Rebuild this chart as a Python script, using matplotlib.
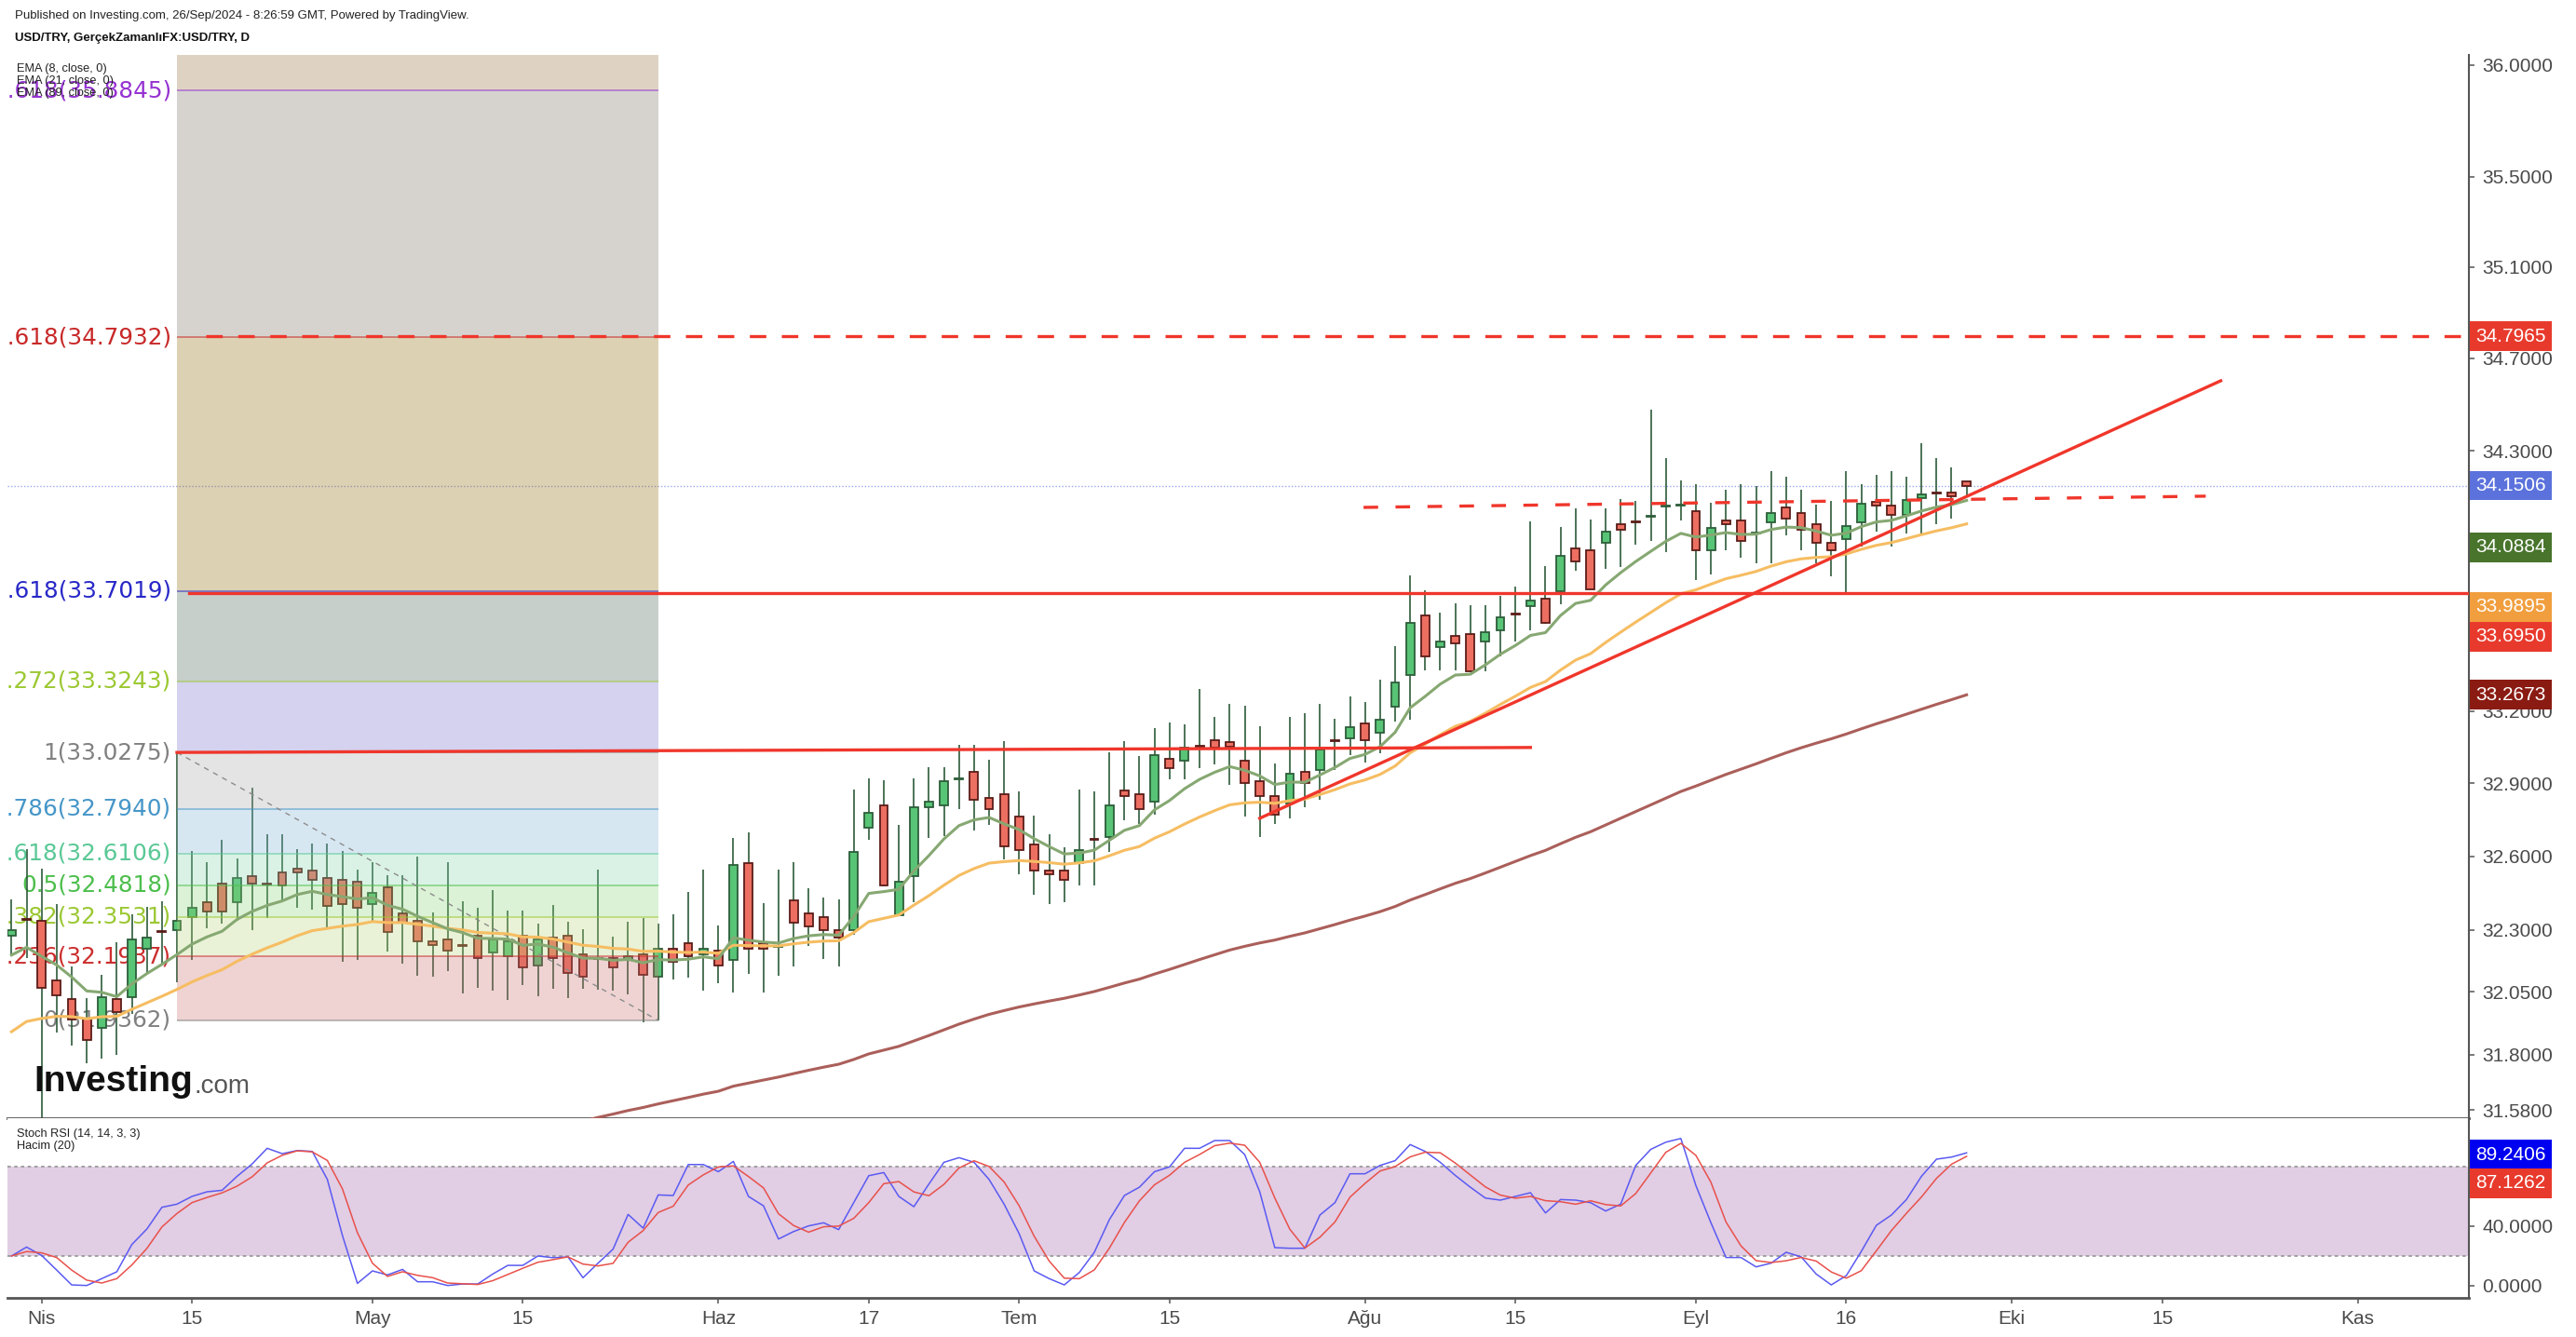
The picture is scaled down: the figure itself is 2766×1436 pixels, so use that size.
import matplotlib.pyplot as plt
import matplotlib.transforms as mtransforms
from matplotlib.ticker import FixedLocator, NullLocator, FuncFormatter
import numpy as np
import pandas as pd

plt.rcParams['font.family'] = ['Liberation Sans', 'DejaVu Sans']

# USD/TRY daily candles, 28 Mar 2024 -> 26 Sep 2024 (business days)
first_day = '2024-03-28'
opens = [32.277, 32.342, 32.338, 32.097, 32.022, 31.944, 31.906, 32.022, 32.030, 32.225,
         32.294, 32.300, 32.353, 32.413, 32.489, 32.413, 32.519, 32.487, 32.535, 32.550,
         32.542, 32.512, 32.504, 32.497, 32.406, 32.474, 32.368, 32.338, 32.255, 32.262,
         32.238, 32.277, 32.210, 32.195, 32.277, 32.157, 32.270, 32.277, 32.202, 32.185,
         32.187, 32.180, 32.202, 32.112, 32.225, 32.247, 32.202, 32.217, 32.180, 32.573,
         32.247, 32.231, 32.421, 32.368, 32.353, 32.300, 32.300, 32.717, 32.809, 32.360,
         32.519, 32.802, 32.809, 32.915, 32.948, 32.840, 32.855, 32.763, 32.649, 32.542,
         32.542, 32.573, 32.669, 32.679, 32.870, 32.855, 32.824, 33.002, 32.994, 33.053,
         33.078, 33.071, 32.994, 32.909, 32.848, 32.817, 32.948, 32.955, 33.076, 33.086,
         33.148, 33.110, 33.218, 33.350, 33.600, 33.467, 33.514, 33.522, 33.490, 33.537,
         33.605, 33.639, 33.671, 33.702, 33.884, 33.876, 33.907, 33.987, 33.995, 34.020,
         34.060, 34.064, 34.042, 33.876, 34.003, 34.003, 33.945, 33.995, 34.058, 34.034,
         33.987, 33.907, 33.923, 33.995, 34.082, 34.066, 34.026, 34.098, 34.120, 34.122,
         34.170]
highs = [32.425, 32.630, 32.550, 32.406, 32.153, 32.026, 32.120, 32.251, 32.364, 32.395,
         32.417, 33.0275, 32.622, 32.577, 32.668, 32.592, 32.882, 32.691, 32.691, 32.630,
         32.653, 32.653, 32.622, 32.546, 32.577, 32.523, 32.523, 32.599, 32.372, 32.577,
         32.417, 32.391, 32.463, 32.379, 32.379, 32.326, 32.402, 32.334, 32.304, 32.546,
         32.274, 32.334, 32.349, 32.326, 32.364, 32.455, 32.546, 32.319, 32.675, 32.698,
         32.410, 32.546, 32.577, 32.470, 32.432, 32.425, 32.874, 32.921, 32.913, 32.729,
         32.921, 32.967, 32.967, 33.059, 33.059, 32.998, 33.075, 32.867, 32.767, 32.691,
         32.637, 32.874, 32.867, 33.028, 33.075, 33.013, 33.129, 33.152, 33.144, 33.292,
         33.175, 33.229, 33.222, 33.137, 32.982, 33.175, 33.191, 33.229, 33.168, 33.260,
         33.237, 33.331, 33.471, 33.769, 33.706, 33.612, 33.651, 33.643, 33.643, 33.682,
         33.722, 33.999, 33.809, 33.975, 34.054, 34.006, 34.054, 34.094, 34.086, 34.478,
         34.269, 34.174, 34.158, 34.078, 34.134, 34.158, 34.150, 34.213, 34.190, 34.134,
         34.070, 34.086, 34.213, 34.158, 34.198, 34.213, 34.190, 34.334, 34.269, 34.229,
         34.170]
lows = [32.195, 32.187, 31.530, 31.888, 31.836, 31.765, 31.784, 31.799, 31.963, 32.123,
        32.157, 32.090, 32.180, 32.308, 32.326, 32.338, 32.300, 32.349, 32.421, 32.391,
        32.383, 32.308, 32.172, 32.180, 32.338, 32.214, 32.165, 32.116, 32.112, 32.135,
        32.045, 32.067, 32.056, 32.019, 32.078, 32.034, 32.063, 32.026, 32.063, 32.060,
        32.056, 32.041, 31.929, 31.9362, 32.101, 32.108, 32.056, 32.086, 32.049, 32.123,
        32.049, 32.116, 32.153, 32.236, 32.184, 32.153, 32.281, 32.668, 32.478, 32.358,
        32.413, 32.675, 32.683, 32.794, 32.706, 32.729, 32.588, 32.527, 32.444, 32.406,
        32.413, 32.482, 32.482, 32.618, 32.748, 32.733, 32.771, 32.917, 32.917, 32.963,
        32.978, 32.894, 32.763, 32.679, 32.733, 32.756, 32.802, 32.832, 32.955, 33.017,
        32.986, 33.025, 33.156, 33.164, 33.369, 33.369, 33.369, 33.362, 33.365, 33.428,
        33.490, 33.537, 33.566, 33.647, 33.789, 33.708, 33.797, 33.805, 33.900, 33.915,
        33.868, 34.003, 33.749, 33.773, 33.876, 33.844, 33.820, 33.820, 33.939, 33.876,
        33.820, 33.765, 33.686, 33.892, 33.955, 33.892, 33.947, 33.947, 33.987, 34.010,
        34.106]
closes = [32.300, 32.340, 32.067, 32.037, 31.940, 31.858, 32.030, 31.970, 32.262, 32.270,
          32.292, 32.338, 32.391, 32.375, 32.375, 32.512, 32.489, 32.485, 32.482, 32.535,
          32.504, 32.398, 32.406, 32.391, 32.451, 32.292, 32.330, 32.255, 32.240, 32.217,
          32.236, 32.187, 32.262, 32.255, 32.150, 32.262, 32.187, 32.127, 32.112, 32.183,
          32.150, 32.195, 32.120, 32.225, 32.172, 32.195, 32.225, 32.157, 32.565, 32.225,
          32.225, 32.233, 32.330, 32.315, 32.300, 32.270, 32.618, 32.779, 32.482, 32.497,
          32.802, 32.824, 32.909, 32.917, 32.832, 32.794, 32.641, 32.626, 32.542, 32.527,
          32.504, 32.626, 32.667, 32.809, 32.848, 32.794, 33.017, 32.963, 33.048, 33.051,
          33.048, 33.051, 32.901, 32.848, 32.771, 32.940, 32.901, 33.040, 33.074, 33.133,
          33.078, 33.164, 33.319, 33.569, 33.428, 33.490, 33.482, 33.365, 33.529, 33.592,
          33.603, 33.663, 33.569, 33.852, 33.828, 33.710, 33.955, 33.963, 33.993, 34.022,
          34.062, 34.066, 33.876, 33.971, 33.987, 33.915, 33.947, 34.034, 34.010, 33.963,
          33.907, 33.876, 33.979, 34.074, 34.066, 34.026, 34.090, 34.114, 34.118, 34.106,
          34.1506]

# Stoch RSI %K (14, 14, 3, 3)
stoch_k = [20.0, 26.0, 20.4, 10.6, 0.6, 0.2, 4.8, 9.4, 27.7, 38.1,
           52.7, 54.8, 60.0, 63.1, 64.1, 73.5, 81.8, 92.3, 88.7, 90.8,
           90.2, 71.4, 33.9, 1.6, 10.0, 7.3, 11.0, 2.7, 2.7, 0.2,
           1.2, 1.2, 7.9, 13.7, 13.7, 20.0, 18.9, 19.4, 5.4, 15.2,
           24.6, 47.9, 38.7, 61.0, 60.6, 81.4, 81.4, 76.6, 83.5, 60.0,
           53.7, 31.4, 36.4, 40.2, 42.3, 37.7, 55.8, 73.9, 76.0, 60.0,
           53.1, 68.3, 82.9, 86.0, 82.9, 71.4, 54.8, 35.0, 10.0, 4.8,
           0.6, 8.9, 22.5, 44.4, 60.6, 66.2, 76.6, 79.8, 92.3, 92.3,
           97.5, 97.5, 88.1, 63.1, 25.6, 25.2, 25.2, 47.5, 55.8, 75.2,
           75.2, 80.8, 84.0, 94.8, 90.2, 82.9, 74.1, 66.2, 58.9, 57.5,
           60.0, 62.5, 48.9, 57.9, 57.5, 55.8, 50.2, 54.8, 80.8, 91.6,
           96.4, 98.9, 67.3, 42.3, 19.0, 19.0, 12.7, 15.2, 22.5, 19.4,
           7.9, 0.6, 6.8, 23.1, 40.6, 47.5, 57.9, 73.5, 85.0, 86.4,
           89.24]

# EMA values on the day before the first bar
ema8_start, ema21_start, ema89_start = 32.17, 31.85, 30.5

# Fibonacci drawing (anchored on bar 11 high and bar 43 low)
fib_from, fib_to = 11, 43
fib_levels = [0, 0.236, 0.382, 0.5, 0.618, 0.786, 1, 1.272, 1.618, 2.618, 3.618]
fib_prices = [31.9362, 32.1937, 32.3531, 32.4818, 32.6106, 32.7940, 33.0275,
              33.3243, 33.7019, 34.7932, 35.8845]
fib_colors = ['#808080', '#cc2e2e', '#9bc832', '#4cbe4c', '#5ac896', '#4696c8',
              '#808080', '#9bc832', '#2828c8', '#c82828', '#9632d2']
band_colors = ['#cd7070', '#b9d47a', '#8ad47a', '#84d4ac', '#7db2d4', '#a8a8a8',
               '#736ccd', '#486252', '#8e6905', '#7a7062', '#94703a']

# hand-drawn lines: (x0, y0, x1, y1)
resistance_dash = (12.9, 34.7965, 163.4, 34.7965)
support_red = (11.8, 33.695, 163.4, 33.695)
old_top = (11, 33.0275, 101, 33.048)
rising_trend = (83, 32.756, 146.9, 34.603)
range_dash = (89.9, 34.058, 145.9, 34.106)
last_price = 34.1506

price_ticks = [36.0, 35.5, 35.1, 34.7, 34.3, 33.2, 32.9, 32.6, 32.3, 32.05, 31.8, 31.58]
stoch_ticks = [0, 40]
tick_dates = ['2024-04-01', '2024-04-15', '2024-05-01', '2024-05-15', '2024-06-03',
              '2024-06-17', '2024-07-01', '2024-07-15', '2024-08-01', '2024-08-15',
              '2024-09-02', '2024-09-16', '2024-10-01', '2024-10-15', '2024-11-01']
tick_labels = ['Nis', '15', 'May', '15', 'Haz', '17', 'Tem', '15', 'Ağu', '15',
               'Eyl', '16', 'Eki', '15', 'Kas']

# right-hand price tags: value, slot on the scale, colour
tag_values = [34.7965, 34.1506, 34.0884, 33.9895, 33.6950, 33.2673]
tag_slots = [34.7965, 34.1506, 33.888, 33.636, 33.510, 33.2673]
tag_colors = ['#e83a2c', '#5b72dc', '#48742c', '#f19e3e', '#e83a2c', '#8a1b12']
stoch_tag_values = [89.2406, 87.1262]
stoch_tag_slots = [88.1, 68.75]
stoch_tag_colors = ['#0000f0', '#e83a2c']

W, H = 2766, 1436
fig = plt.figure(figsize=(W / 100, H / 100), dpi=100)
left, right = 8, 2651
ax = fig.add_axes([left / W, (H - 1201) / H, (right - left) / W, (1201 - 59) / H])
ax2 = fig.add_axes([left / W, (H - 1394) / H, (right - left) / W, (1394 - 1201) / H], sharex=ax)

n = len(closes)
x = np.arange(n)
o, h, l, c = map(np.array, (opens, highs, lows, closes))
up = c >= o

# candles
ax.vlines(x, l, h, color='#2e5b3b', lw=1.2, zorder=2.1)
body_lo = np.minimum(o, c)
body_h = np.maximum(np.abs(c - o), 0.004)
ax.bar(x[up], body_h[up], bottom=body_lo[up], width=0.55, color='#58c476',
       edgecolor='#2d5e3a', linewidth=1.3, zorder=2.2)
ax.bar(x[~up], body_h[~up], bottom=body_lo[~up], width=0.55, color='#ec6f61',
       edgecolor='#5b1d18', linewidth=1.3, zorder=2.2)


def ema(values, span, start):
    s = pd.Series([start] + list(values))
    return s.ewm(span=span, adjust=False).mean().iloc[1:].to_numpy()


ax.plot(x, ema(closes, 89, ema89_start), color='#ab5f5a', lw=2.2, zorder=4)
ax.plot(x, ema(closes, 21, ema21_start), color='#f6bd62', lw=2.2, zorder=4)
ax.plot(x, ema(closes, 8, ema8_start), color='#86a872', lw=2.2, zorder=4)

ymin, ymax = 31.547, 36.046

# fibonacci box
tops = fib_prices[1:] + [ymax]
for lo, hi, col in zip(fib_prices, tops, band_colors):
    ax.fill_between([fib_from, fib_to], lo, hi, color=col, alpha=0.3, lw=0, zorder=3)
ax.hlines(fib_prices, fib_from, fib_to, colors=fib_colors, alpha=0.55, lw=1.3, zorder=3.1)
ax.plot([fib_from, fib_to], [fib_prices[6], fib_prices[0]], color='#8c8c8c', lw=1,
        ls=(0, (4, 4)), zorder=3.2)
lab_tr = mtransforms.offset_copy(ax.transData, fig=fig, x=-6, y=0, units='dots')
for lv, p, col in zip(fib_levels, fib_prices, fib_colors):
    t = ax.text(fib_from, p, f'{lv:g}({p:.4f})', transform=lab_tr, ha='right', va='center',
                color=col, fontsize=17.8, family='DejaVu Sans', zorder=1.5, clip_on=True)
    t.set_clip_box(ax.bbox)

# drawn lines
red = '#f0362b'
ax.axhline(last_price, color='#9aa8ee', lw=1, ls=(0, (1, 1.5)), zorder=1.8)
for seg, style in [(resistance_dash, (0, (5.3, 5.0))), (range_dash, (0, (4.7, 5.6))),
                   (support_red, '-'), (old_top, '-'), (rising_trend, '-')]:
    ax.plot([seg[0], seg[2]], [seg[1], seg[3]], color=red, lw=2.4, ls=style, zorder=5)

ax.set_yscale('log')
ax.set_ylim(ymin, ymax)
ax.set_xlim(-0.27, 163.4)
ax.yaxis.set_major_locator(FixedLocator(price_ticks))
ax.yaxis.set_minor_locator(NullLocator())
ax.yaxis.set_major_formatter(FuncFormatter(lambda v, _: f'{v:.4f}'))
ax.yaxis.tick_right()
ax.tick_params(axis='y', length=4.3, width=1.1, color='#555555', labelsize=15,
               labelcolor='#4a4a4a', pad=6)
ax.tick_params(axis='x', bottom=False, labelbottom=False)
for sp in ['top', 'left']:
    ax.spines[sp].set_visible(False)
ax.spines['right'].set_color('#555555')
ax.spines['right'].set_linewidth(1.5)
ax.spines['bottom'].set_color('#555555')
ax.spines['bottom'].set_linewidth(2)

for val, slot, col in zip(tag_values, tag_slots, tag_colors):
    ax.annotate(f'{val:.4f}', xy=(1, slot), xycoords=ax.get_yaxis_transform(),
                xytext=(7, 0), textcoords='offset pixels', ha='left', va='center',
                color='white', fontsize=15, annotation_clip=False, zorder=10,
                bbox=dict(boxstyle='square,pad=0.3', fc=col, ec='none'))

# stoch RSI panel
k = pd.Series(stoch_k)
d = k.rolling(3, min_periods=1).mean()
ax2.axhspan(20, 80, color='#e1cde4', lw=0, zorder=0.5)
for lvl in (20, 80):
    ax2.axhline(lvl, color='#9a9a9a', lw=1.3, ls=(0, (2, 2)), zorder=0.6)
ax2.plot(x, k, color='#5a5af2', lw=1.1, zorder=2)
ax2.plot(x, d, color='#e8514b', lw=1.1, zorder=2)
ax2.set_ylim(-8.125, 112.5)
ax2.yaxis.set_major_locator(FixedLocator(stoch_ticks))
ax2.yaxis.set_major_formatter(FuncFormatter(lambda v, _: f'{v:.4f}'))
ax2.yaxis.tick_right()
ax2.tick_params(axis='y', length=4.3, width=1.1, color='#555555', labelsize=15,
                labelcolor='#4a4a4a', pad=6)
for sp in ['top', 'left']:
    ax2.spines[sp].set_visible(False)
ax2.spines['right'].set_color('#555555')
ax2.spines['right'].set_linewidth(1.5)
ax2.spines['bottom'].set_color('#555555')
ax2.spines['bottom'].set_linewidth(2)

dates = pd.bdate_range(first_day, periods=170)
tick_pos = [dates.get_loc(pd.Timestamp(dt)) for dt in tick_dates]
ax2.set_xticks(tick_pos)
ax2.set_xticklabels(tick_labels)
ax2.tick_params(axis='x', length=4.3, width=1.1, color='#555555', labelsize=15,
                labelcolor='#4a4a4a', pad=5)

for val, slot, col in zip(stoch_tag_values, stoch_tag_slots, stoch_tag_colors):
    ax2.annotate(f'{val:.4f}', xy=(1, slot), xycoords=ax2.get_yaxis_transform(),
                 xytext=(7, 0), textcoords='offset pixels', ha='left', va='center',
                 color='white', fontsize=15, annotation_clip=False, zorder=10,
                 bbox=dict(boxstyle='square,pad=0.3', fc=col, ec='none'))

# header and legends
fig.text(16 / W, 1 - 17 / H, 'Published on Investing.com, 26/Sep/2024 - 8:26:59 GMT, Powered by TradingView.',
         fontsize=9.5, va='center', color='#222222')
fig.text(16 / W, 1 - 41 / H, 'USD/TRY, GerçekZamanlıFX:USD/TRY, D', fontsize=9.5,
         weight='bold', va='center', color='#111111')
for yy, txt in [(74, 'EMA (8, close, 0)'), (87, 'EMA (21, close, 0)'), (100, 'EMA (89, close, 0)')]:
    fig.text(18 / W, 1 - yy / H, txt, fontsize=9.2, va='center', color='#222222')
fig.text(18 / W, 1 - 1218 / H, 'Stoch RSI (14, 14, 3, 3)', fontsize=9.2, va='center', color='#222222')
fig.text(18 / W, 1 - 1231 / H, 'Hacim (20)', fontsize=9.2, va='center', color='#222222')

logo = fig.text(36 / W, 1 - 1172 / H, 'Investing', fontsize=28, weight='bold',
                color='#111111', va='baseline')
ax.annotate('.com', xy=(1, 0), xycoords=logo, xytext=(1, 0), textcoords='offset points',
            va='bottom', ha='left', fontsize=20, color='#555555', annotation_clip=False, zorder=10)

fig.savefig('out.png', dpi=100)
